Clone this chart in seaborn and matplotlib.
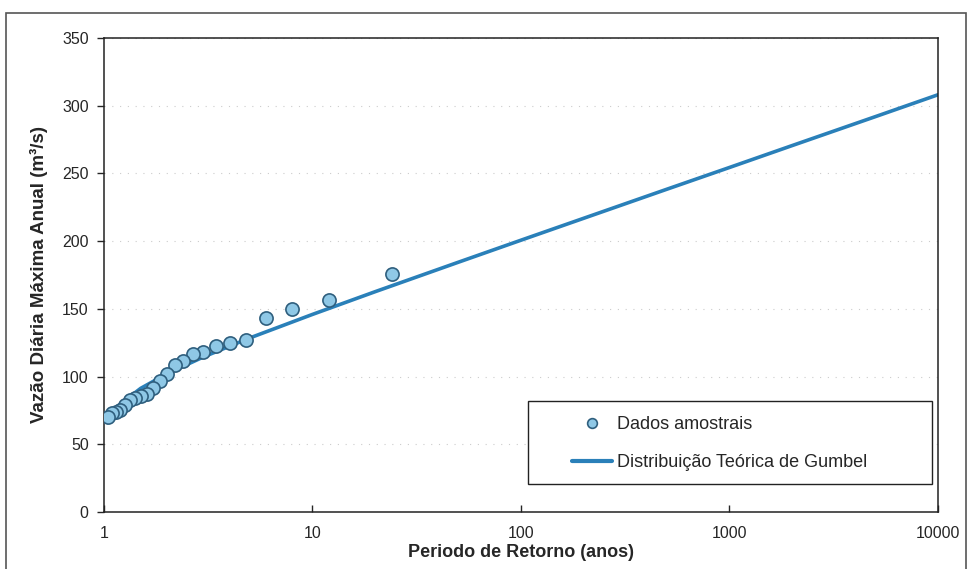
"""
Curva de frequencia de vazoes maximas anuais - ajuste de Gumbel
"""
import numpy as np
import pandas as pd
import matplotlib.pyplot as plt
import seaborn as sns
from matplotlib.lines import Line2D
from matplotlib.patches import Rectangle

# Sample data: return period (years) and annual maximum daily flow (m3/s)
periodo_amostra = [24.0, 12.0, 8.0, 6.0, 4.8, 4.0, 3.43, 3.0, 2.67, 2.4, 2.18, 2.0,
                   1.85, 1.71, 1.6, 1.5, 1.41, 1.33, 1.26, 1.2, 1.14, 1.09, 1.04]
vazao_amostra = [175.5, 156.3, 149.7, 143.0, 127.0, 125.0, 122.8, 118.4, 116.5, 111.7, 108.6, 101.7,
                 96.8, 91.8, 87.1, 85.7, 84.4, 82.7, 79.0, 75.3, 74.0, 72.9, 70.4]

# Theoretical Gumbel curve
periodo_gumbel = [1.04, 1.1, 1.2, 1.5, 2, 3, 5, 10, 20, 50, 100, 200, 500, 1000, 2000, 5000, 10000]
vazao_gumbel = [66.0, 73.1, 79.9, 91.3, 102.0, 114.5, 128.5, 145.9, 162.7, 184.4, 200.7,
                216.9, 238.3, 254.4, 270.6, 291.9, 308.1]

y_ticks = [0, 50, 100, 150, 200, 250, 300, 350]
x_ticks = [1, 10, 100, 1000, 10000]
x_tick_labels = ['1', '10', '100', '1000', '10000']

line_color = '#2a80b9'
point_fill = '#8fc8e6'
point_edge = '#2f5f7e'


def plot_gumbel():
    sns.set_style('white')
    plt.rcParams['font.family'] = ['Liberation Sans', 'DejaVu Sans']

    df_pts = pd.DataFrame({'T': periodo_amostra, 'Q': vazao_amostra})
    df_line = pd.DataFrame({'T': periodo_gumbel, 'Q': vazao_gumbel})

    fig = plt.figure(figsize=(9.7, 5.69), dpi=100)
    ax = fig.add_axes([0.1072, 0.1002, 0.8598, 0.833])

    sns.lineplot(data=df_line, x='T', y='Q', color=line_color, lw=2.6, ax=ax,
                 zorder=2, sort=True)
    sns.scatterplot(data=df_pts, x='T', y='Q', s=90, color=point_fill,
                    edgecolor=point_edge, linewidth=1.2, ax=ax, zorder=3)

    ax.set_xscale('log')
    ax.set_xlim(1, 10000)
    ax.set_ylim(0, 350)
    ax.set_xticks(x_ticks)
    ax.set_xticklabels(x_tick_labels)
    ax.xaxis.set_minor_locator(plt.NullLocator())
    ax.set_yticks(y_ticks)

    ax.grid(axis='y', color='#cccccc', linestyle=(0, (1, 6)), linewidth=0.8)
    ax.tick_params(axis='x', direction='in', length=5, width=1, labelsize=11.5, pad=10)
    ax.tick_params(axis='y', direction='out', length=5, width=1, labelsize=11.5, pad=6)
    ax.tick_params(bottom=True, left=True)
    for side in ['top', 'right', 'bottom', 'left']:
        ax.spines[side].set_visible(True)
        ax.spines[side].set_color('#222222')
        ax.spines[side].set_linewidth(1.1)

    ax.set_xlabel('Periodo de Retorno (anos)', fontsize=13, fontweight='bold', labelpad=2)
    ax.set_ylabel('Vazão Diária Máxima Anual (m³/s)', fontsize=13.5, fontweight='bold', labelpad=10)

    handles = [
        Line2D([], [], marker='o', linestyle='none', markersize=7,
               markerfacecolor=point_fill, markeredgecolor=point_edge, markeredgewidth=1.2),
        Line2D([], [], color=line_color, lw=3),
    ]
    ax.legend(handles, ['Dados amostrais', 'Distribuição Teórica de Gumbel'],
              loc='center left', bbox_to_anchor=(0.561, 0.1445), fontsize=13,
              frameon=False, handlelength=2.25, handletextpad=0.25, labelspacing=1.15,
              borderpad=0, borderaxespad=0)
    # legend box drawn separately so it is as wide as the original
    ax.add_patch(Rectangle((0.508, 0.059), 0.485, 0.175, transform=ax.transAxes,
                           facecolor='white', edgecolor='#222222', linewidth=1.0, zorder=4))
    ax.get_legend().set_zorder(5)

    # outer frame around the whole chart
    fig.patches.append(Rectangle((0.006, -0.02), 0.99, 0.997, transform=fig.transFigure,
                                 fill=False, edgecolor='#555555', linewidth=1.2))

    fig.savefig('out.png', dpi=100)
    plt.close(fig)


if __name__ == '__main__':
    plot_gumbel()
